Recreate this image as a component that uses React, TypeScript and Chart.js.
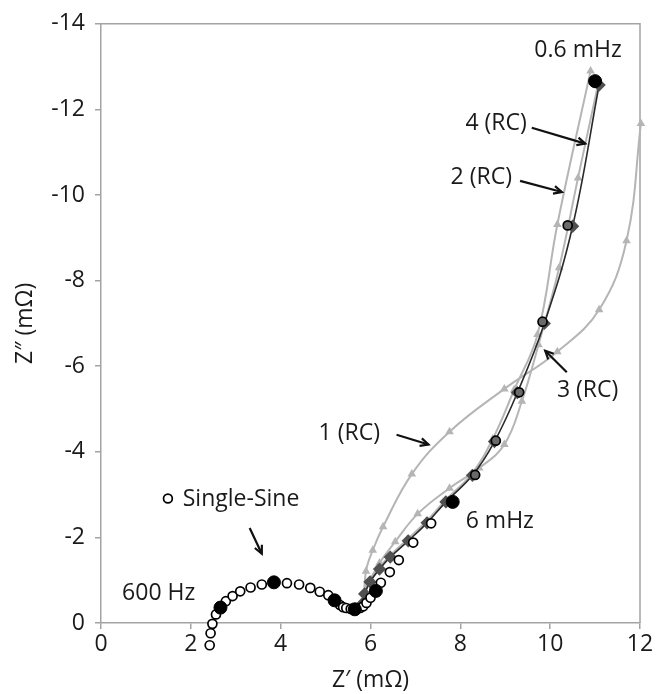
import React, { useEffect, useRef } from 'react';
import { Chart, registerables } from 'chart.js';

Chart.register(...registerables);

// ---- Data (Z' in mΩ, Z'' in mΩ) ----
const singleSineX = [2.42, 2.44, 2.48, 2.56, 2.78, 2.93, 3.10, 3.33, 3.58, 4.14, 4.41, 4.66, 4.87, 5.06, 5.32, 5.39, 5.46, 5.56, 5.77, 5.84, 5.91, 6.00, 6.23, 6.43, 6.63, 6.95, 7.35, 8.33, 8.79, 9.31, 9.83, 10.39];
const singleSineY = [0.52, 0.24, 0.02, -0.20, -0.51, -0.63, -0.74, -0.83, -0.90, -0.93, -0.90, -0.82, -0.73, -0.65, -0.42, -0.37, -0.35, -0.33, -0.35, -0.39, -0.47, -0.59, -0.94, -1.19, -1.47, -1.88, -2.33, -3.46, -4.26, -5.39, -7.04, -9.29];

const decadeX = [2.66, 3.85, 5.20, 5.65, 6.12, 7.83, 11.00];
const decadeY = [-0.36, -0.95, -0.53, -0.32, -0.75, -2.83, -12.66];

const rc1X = [5.85, 5.90, 6.05, 6.28, 6.92, 7.76, 8.98, 10.16, 11.09, 11.70, 12.02];
const rc1Y = [-0.45, -1.21, -1.70, -2.25, -3.48, -4.47, -5.47, -6.34, -7.32, -8.93, -11.67];

const rc2X = [5.80, 5.97, 6.18, 6.42, 6.82, 7.24, 7.66, 8.25, 8.72, 9.20, 9.72, 10.16, 10.90];
const rc2Y = [-0.45, -0.98, -1.28, -1.56, -1.95, -2.37, -2.86, -3.48, -4.30, -5.45, -6.74, -9.31, -12.90];

const rc3X = [5.83, 5.95, 6.20, 6.55, 7.05, 7.76, 8.42, 8.98, 9.37, 9.74, 10.20, 10.62, 11.06];
const rc3Y = [-0.45, -0.90, -1.40, -1.90, -2.55, -3.15, -3.62, -4.17, -5.18, -6.50, -8.30, -10.40, -12.55];

const rc4X = [5.82, 5.87, 5.99, 6.20, 6.44, 6.84, 7.26, 7.68, 8.27, 8.76, 9.27, 9.87, 10.50, 11.09];
const rc4Y = [-0.45, -0.68, -0.96, -1.26, -1.54, -1.92, -2.34, -2.83, -3.45, -4.24, -5.38, -7.00, -9.27, -12.57];

const xTicks = [0, 2, 4, 6, 8, 10, 12];
const yTicks = [0, -2, -4, -6, -8, -10, -12, -14];

const pts = (xs: number[], ys: number[]) => xs.map((x, i) => ({ x, y: ys[i] }));

// ---- annotations (data coordinates) ----
const FONT = '"Open Sans", "Noto Sans", sans-serif';
const notes = [
  { text: '0.6 mHz', x: 10.62, y: -13.38, align: 'center' },
  { text: '4 (RC)', x: 9.48, y: -11.67, align: 'right' },
  { text: '2 (RC)', x: 9.15, y: -10.42, align: 'right' },
  { text: '3 (RC)', x: 10.15, y: -5.44, align: 'left' },
  { text: '1 (RC)', x: 6.21, y: -4.42, align: 'right' },
  { text: '6 mHz', x: 8.12, y: -2.38, align: 'left' },
  { text: '600 Hz', x: 0.47, y: -0.70, align: 'left' },
  { text: 'Single-Sine', x: 1.82, y: -2.89, align: 'left' },
];
const arrows = [
  { x1: 3.31, y1: -2.22, x2: 3.58, y2: -1.62 },
  { x1: 6.58, y1: -4.40, x2: 7.29, y2: -4.17 },
  { x1: 9.59, y1: -11.57, x2: 10.78, y2: -11.20 },
  { x1: 9.33, y1: -10.33, x2: 10.26, y2: -10.07 },
  { x1: 10.37, y1: -5.86, x2: 9.89, y2: -6.36 },
];
const legendMark = { x: 1.49, y: -2.91 };

const framePlugin = {
  id: 'frameBox',
  beforeDatasetsDraw(chart: any) {
    const { ctx, chartArea: a } = chart;
    ctx.save();
    ctx.strokeStyle = '#a3a3a3';
    ctx.lineWidth = 1.5;
    ctx.beginPath();
    ctx.moveTo(a.left, a.top);
    ctx.lineTo(a.right, a.top);
    ctx.lineTo(a.right, a.bottom);
    ctx.stroke();
    ctx.restore();
    // let points just below the Z''=0 axis be drawn as well
    chart.$savedArea = a;
    chart.chartArea = { ...a, bottom: a.bottom + 45, height: a.height + 45, right: a.right + 10, width: a.width + 10 };
  },
  afterDatasetsDraw(chart: any) {
    if (chart.$savedArea) { chart.chartArea = chart.$savedArea; chart.$savedArea = null; }
    const { ctx, scales } = chart;
    const sx = scales.x, sy = scales.y;
    ctx.save();
    ctx.fillStyle = '#1a1a1a';
    ctx.font = `23px ${FONT}`;
    ctx.textBaseline = 'middle';
    notes.forEach((n) => {
      ctx.textAlign = n.align;
      ctx.fillText(n.text, sx.getPixelForValue(n.x), sy.getPixelForValue(n.y));
    });
    ctx.strokeStyle = '#111';
    ctx.lineWidth = 2.2;
    arrows.forEach((a) => {
      const x1 = sx.getPixelForValue(a.x1), y1 = sy.getPixelForValue(a.y1);
      const x2 = sx.getPixelForValue(a.x2), y2 = sy.getPixelForValue(a.y2);
      const ang = Math.atan2(y2 - y1, x2 - x1);
      ctx.beginPath();
      ctx.moveTo(x1, y1);
      ctx.lineTo(x2, y2);
      ctx.stroke();
      const h = 9;
      ctx.beginPath();
      ctx.moveTo(x2 - h * Math.cos(ang - 0.45), y2 - h * Math.sin(ang - 0.45));
      ctx.lineTo(x2, y2);
      ctx.lineTo(x2 - h * Math.cos(ang + 0.45), y2 - h * Math.sin(ang + 0.45));
      ctx.stroke();
    });
    const lx = sx.getPixelForValue(legendMark.x), ly = sy.getPixelForValue(legendMark.y);
    ctx.beginPath();
    ctx.arc(lx, ly, 4.4, 0, Math.PI * 2);
    ctx.fillStyle = '#fff';
    ctx.fill();
    ctx.lineWidth = 1.7;
    ctx.strokeStyle = '#000';
    ctx.stroke();
    ctx.restore();
  },
};

export default function App() {
  const ref = useRef<HTMLCanvasElement | null>(null);
  useEffect(() => {
    if (!ref.current) return;
    const lightGray = '#b5b5b5';
    const chart = new Chart(ref.current, {
      type: 'scatter',
      data: {
        datasets: [
          {
            label: '1 (RC)', data: pts(rc1X, rc1Y), showLine: true, tension: 0.4,
            borderColor: lightGray, borderWidth: 2, pointStyle: 'triangle', pointRadius: 3,
            pointBackgroundColor: lightGray, pointBorderColor: lightGray, clip: false, order: 6,
          },
          {
            label: '2 (RC)', data: pts(rc2X, rc2Y), showLine: true, tension: 0.4,
            borderColor: lightGray, borderWidth: 2, pointStyle: 'triangle', pointRadius: 3,
            pointBackgroundColor: lightGray, pointBorderColor: lightGray, clip: false, order: 5,
          },
          {
            label: '3 (RC)', data: pts(rc3X, rc3Y), showLine: true, tension: 0.4,
            borderColor: lightGray, borderWidth: 2, pointStyle: 'triangle', pointRadius: 3,
            pointBackgroundColor: lightGray, pointBorderColor: lightGray, clip: false, order: 4,
          },
          {
            label: '4 (RC)', data: pts(rc4X, rc4Y), showLine: true, tension: 0.4,
            borderColor: '#2a2a2a', borderWidth: 1.6, pointStyle: 'rectRot', pointRadius: 5.5,
            pointBackgroundColor: '#505050', pointBorderColor: '#505050', clip: false, order: 3,
          },
          {
            label: 'Single-Sine', data: pts(singleSineX, singleSineY), showLine: false,
            pointStyle: 'circle', pointRadius: 4.5, borderWidth: 1.7,
            pointBorderColor: '#000',
            pointBackgroundColor: (c: any) => (c.raw && c.raw.x > 8 ? '#6a6a6a' : '#ffffff'),
            clip: false, order: 2,
          },
          {
            label: 'decades', data: pts(decadeX, decadeY), showLine: false,
            pointStyle: 'circle', pointRadius: 6.5, pointBackgroundColor: '#000',
            pointBorderColor: '#000', clip: false, order: 1,
          },
        ],
      },
      options: {
        animation: false,
        responsive: false,
        maintainAspectRatio: false,
        layout: { padding: { left: 0, top: 18, right: 18, bottom: 0 } },
        plugins: { legend: { display: false }, tooltip: { enabled: false } },
        scales: {
          x: {
            type: 'linear', min: 0, max: 12,
            afterBuildTicks: (s: any) => { s.ticks = xTicks.map((v) => ({ value: v })); },
            afterFit: (s: any) => { s.height = 71; },
            grid: { drawOnChartArea: false, drawTicks: true, tickLength: 6, tickColor: '#a3a3a3', lineWidth: 1.5 },
            border: { color: '#a3a3a3', width: 1.5 },
            ticks: { color: '#1a1a1a', font: { family: FONT, size: 23 }, padding: 2, maxRotation: 0 },
            title: { display: true, text: 'Z\u2032 (m\u03A9)', color: '#1a1a1a', font: { family: FONT, size: 23 }, padding: { top: 0, bottom: 0 } },
          },
          y: {
            type: 'linear', min: -14, max: 0, reverse: true,
            afterBuildTicks: (s: any) => { s.ticks = yTicks.map((v) => ({ value: v })); },
            afterFit: (s: any) => { s.width = 101; },
            grid: { drawOnChartArea: false, drawTicks: true, tickLength: 6, tickColor: '#a3a3a3', lineWidth: 1.5 },
            border: { color: '#a3a3a3', width: 1.5 },
            ticks: { color: '#1a1a1a', font: { family: FONT, size: 23 }, padding: 10 },
            title: { display: true, text: 'Z\u2033 (m\u03A9)', color: '#1a1a1a', font: { family: FONT, size: 23 }, padding: { top: 12, bottom: 0 } },
          },
        },
      },
      plugins: [framePlugin],
    } as any);
    return () => chart.destroy();
  }, []);
  return (
    <div style={{ position: 'fixed', left: 0, top: 0, width: 658, height: 694, background: '#fff' }}>
      <canvas ref={ref} width={658} height={694} style={{ width: 658, height: 694, display: 'block' }} />
    </div>
  );
}
